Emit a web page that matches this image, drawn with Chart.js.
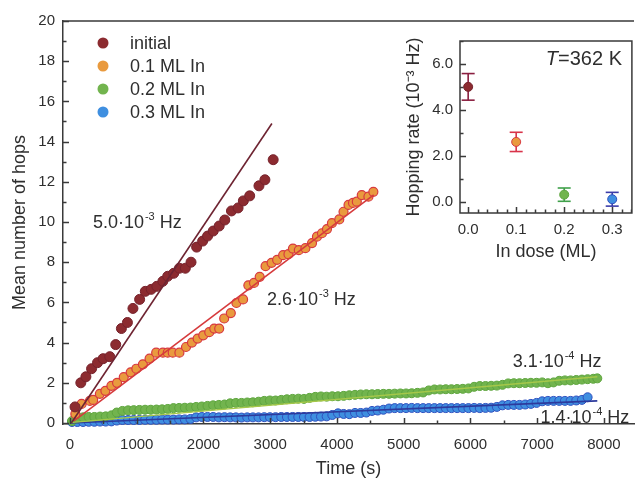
<!DOCTYPE html>
<html>
<head>
<meta charset="utf-8">
<title>Mean number of hops</title>
<script src="https://cdn.jsdelivr.net/npm/chart.js@4.4.1/dist/chart.umd.min.js"></script>
<style>
  html, body { margin: 0; padding: 0; background: #fff; }
  #wrap { position: relative; width: 640px; height: 480px; overflow: hidden; }
  #main { position: absolute; left: 0; top: 0; }
  #inset { position: absolute; left: 395px; top: 25px; }
</style>
</head>
<body>
<div id="wrap">
  <canvas id="main" width="640" height="480"></canvas>
  <canvas id="inset" width="245" height="240"></canvas>
</div>
<script>
// values (time in s, mean hops)
const initialT = [75, 162, 238, 323, 412, 496, 596, 685, 770, 860, 943, 1043, 1128, 1217, 1301, 1391, 1464, 1554, 1639, 1728, 1813, 1897, 1987, 2061, 2146, 2235, 2319, 2419, 2518, 2597, 2692, 2831, 2920, 3044]
const initialHops = [0.8, 2.0, 2.3, 2.7, 3.0, 3.2, 3.3, 3.9, 4.7, 5.0, 5.7, 6.15, 6.55, 6.65, 6.8, 7.05, 7.3, 7.45, 7.7, 7.7, 8.0, 8.75, 9.05, 9.3, 9.55, 9.8, 10.1, 10.55, 10.7, 11.05, 11.3, 11.8, 12.1, 13.1]

const dose1T = [80, 174, 298, 347, 447, 530, 620, 705, 805, 909, 994, 1092, 1192, 1291, 1391, 1464, 1539, 1639, 1738, 1827, 1912, 1996, 2086, 2161, 2235, 2310, 2409, 2493, 2593, 2672, 2757, 2842, 2930, 3020, 3103, 3193, 3273, 3340, 3428, 3527, 3626, 3700, 3775, 3850, 3924, 4034, 4098, 4173, 4240, 4297, 4371, 4471, 4545]
const dose1Hops = [0.45, 0.95, 1.1, 1.15, 1.45, 1.6, 1.85, 2.0, 2.28, 2.52, 2.7, 2.92, 3.2, 3.5, 3.5, 3.5, 3.5, 3.5, 3.78, 4.0, 4.2, 4.36, 4.52, 4.7, 4.7, 5.2, 5.47, 5.97, 6.15, 6.85, 6.97, 7.27, 7.8, 7.97, 8.12, 8.35, 8.4, 8.68, 8.6, 8.7, 8.95, 9.27, 9.44, 9.65, 9.94, 10.13, 10.51, 10.85, 10.95, 11.01, 11.34, 11.26, 11.5]

const dose2T = [30, 110, 195, 280, 365, 450, 535, 620, 700, 785, 870, 955, 1040, 1125, 1210, 1295, 1380, 1465, 1550, 1635, 1720, 1805, 1890, 1975, 2060, 2145, 2230, 2315, 2400, 2485, 2570, 2655, 2740, 2825, 2910, 2995, 3080, 3165, 3250, 3335, 3420, 3505, 3590, 3675, 3760, 3845, 3930, 4015, 4100, 4185, 4270, 4355, 4440, 4525, 4610, 4695, 4780, 4865, 4950, 5035, 5120, 5205, 5290, 5375, 5460, 5545, 5630, 5715, 5800, 5885, 5970, 6055, 6140, 6225, 6310, 6395, 6480, 6565, 6650, 6735, 6820, 6905, 6990, 7075, 7160, 7245, 7330, 7415, 7500, 7585, 7670, 7755, 7840, 7900]
const dose2Hops = [0.1, 0.22, 0.28, 0.3, 0.3, 0.32, 0.33, 0.38, 0.52, 0.6, 0.63, 0.64, 0.65, 0.66, 0.66, 0.67, 0.68, 0.7, 0.74, 0.75, 0.76, 0.77, 0.8, 0.82, 0.85, 0.88, 0.9, 0.92, 0.98, 1.0, 1.0, 1.02, 1.03, 1.06, 1.1, 1.12, 1.12, 1.15, 1.18, 1.2, 1.21, 1.2, 1.25, 1.3, 1.32, 1.31, 1.33, 1.33, 1.35, 1.38, 1.4, 1.42, 1.43, 1.43, 1.44, 1.45, 1.45, 1.46, 1.47, 1.47, 1.48, 1.5, 1.52, 1.62, 1.67, 1.67, 1.68, 1.68, 1.69, 1.7, 1.72, 1.8, 1.84, 1.84, 1.85, 1.86, 1.9, 1.97, 1.98, 1.98, 1.99, 2.0, 2.0, 2.02, 1.98, 2.02, 2.1, 2.12, 2.12, 2.14, 2.16, 2.18, 2.2, 2.22]

const dose3T = [30, 110, 195, 280, 365, 450, 535, 620, 700, 785, 870, 955, 1040, 1125, 1210, 1295, 1380, 1465, 1550, 1635, 1720, 1805, 1890, 1975, 2060, 2145, 2230, 2315, 2400, 2485, 2570, 2655, 2740, 2825, 2910, 2995, 3080, 3165, 3250, 3335, 3420, 3505, 3590, 3675, 3760, 3845, 3930, 4015, 4100, 4185, 4270, 4355, 4440, 4525, 4610, 4695, 4780, 4865, 4950, 5035, 5120, 5205, 5290, 5375, 5460, 5545, 5630, 5715, 5800, 5885, 5970, 6055, 6140, 6225, 6310, 6395, 6480, 6565, 6650, 6735, 6820, 6905, 6990, 7075, 7160, 7245, 7330, 7415, 7500, 7585, 7670, 7755]
const dose3Hops = [0.05, 0.05, 0.05, 0.06, 0.06, 0.07, 0.07, 0.08, 0.12, 0.15, 0.15, 0.15, 0.15, 0.16, 0.16, 0.16, 0.17, 0.17, 0.17, 0.18, 0.18, 0.2, 0.28, 0.3, 0.3, 0.3, 0.28, 0.29, 0.28, 0.28, 0.27, 0.28, 0.28, 0.28, 0.29, 0.29, 0.29, 0.3, 0.3, 0.3, 0.3, 0.3, 0.3, 0.31, 0.32, 0.33, 0.4, 0.48, 0.45, 0.44, 0.5, 0.5, 0.52, 0.6, 0.62, 0.66, 0.72, 0.74, 0.74, 0.74, 0.75, 0.74, 0.74, 0.74, 0.74, 0.74, 0.74, 0.74, 0.74, 0.74, 0.74, 0.75, 0.74, 0.75, 0.76, 0.8, 0.88, 0.9, 0.9, 0.9, 0.92, 0.95, 1.0, 1.08, 1.1, 1.1, 1.1, 1.1, 1.1, 1.12, 1.15, 1.28]

// fitted lines, end points [t, hops]
const fitInitial = [[20, 0], [3025, 14.9]]
const fitDose1 = [[60, 0.1], [4550, 11.35]]
const fitDose2 = [[0, 0.02], [7900, 2.3]]
const fitDose3 = [[0, 0], [7900, 1.1]]

const seriesNames = ['initial', '0.1 ML In', '0.2 ML In', '0.3 ML In']
const rateLabels = [['5.0\u00b710', '-3', ' Hz'], ['2.6\u00b710', '-3', ' Hz'], ['3.1\u00b710', '-4', ' Hz'], ['1.4\u00b710', '-4', ' Hz']]

// tick values
const timeTicks = [0, 1000, 2000, 3000, 4000, 5000, 6000, 7000, 8000]
const hopTicks = [0, 2, 4, 6, 8, 10, 12, 14, 16, 18, 20]
const doseTicks = [0.0, 0.1, 0.2, 0.3]
const rateTicks = [0.0, 2.0, 4.0, 6.0]

// inset: hopping rate vs In dose
const doses = [0.0, 0.1, 0.2, 0.3]
const rates = [5.0, 2.6, 0.3, 0.1]
const rateErr = [0.58, 0.42, 0.29, 0.3]

const FONT = '"Liberation Sans", Arial, Helvetica, sans-serif'
const TEXT = '#2e2e2e'
const AXIS = '#3a3a3a'
Chart.defaults.font.family = FONT
Chart.defaults.color = TEXT

const fill = ['#8c2b30', '#e99a3e', '#72b44e', '#3f8fe0']
const edge = ['#76222c', '#d8393f', '#5ea53e', '#3050bf']
const lineColor = ['#6e2432', '#d63a3c', '#a6c84a', '#2d3a9c']
const errColor = ['#8a1f40', '#d8344a', '#3fa04a', '#3c3ca8']

const pts = (xs, ys) => xs.map((x, i) => ({ x, y: ys[i] }))
const seg = s => s.map(p => ({ x: p[0], y: p[1] }))
const fixTicks = vals => s => { s.ticks = vals.map(value => ({ value })) }

function drawRate(ctx, x, y, parts, size) {
    const [base, exp, unit] = parts
    ctx.fillStyle = TEXT
    ctx.textAlign = 'left'
    ctx.textBaseline = 'alphabetic'
    ctx.font = `${size}px ${FONT}`
    ctx.fillText(base, x, y)
    let w = ctx.measureText(base).width + 1
    ctx.font = `${Math.round(size * 0.62)}px ${FONT}`
    ctx.fillText(exp, x + w, y - size * 0.42)
    w += ctx.measureText(exp).width
    ctx.font = `${size}px ${FONT}`
    ctx.fillText(unit, x + w, y)
}

// frame and inward tick marks (major + minor)
const frameTicks = {
    id: 'frameTicks',
    afterDraw(chart, args, o) {
        const { ctx, chartArea: a, scales } = chart
        ctx.save()
        ctx.strokeStyle = AXIS
        ctx.lineWidth = 1.5
        ctx.beginPath()
        if (o.box) {
            ctx.rect(a.left, a.top, a.right - a.left, a.bottom - a.top)
        } else {
            ctx.moveTo(a.left, a.top)
            ctx.lineTo(a.right, a.top)
        }
        const sx = scales.x
        for (let i = Math.ceil(sx.min / o.xMinor); i * o.xMinor <= sx.max + 1e-9; i++) {
            const v = i * o.xMinor
            const r = v / o.xMajor
            const len = Math.abs(r - Math.round(r)) < 1e-6 ? o.major : o.minor
            const px = Math.round(sx.getPixelForValue(v)) + 0.5
            ctx.moveTo(px, a.bottom)
            ctx.lineTo(px, a.bottom - len)
        }
        const sy = scales.y
        for (let i = Math.ceil(sy.min / o.yMinor); i * o.yMinor <= sy.max + 1e-9; i++) {
            const v = i * o.yMinor
            const r = v / o.yMajor
            const len = Math.abs(r - Math.round(r)) < 1e-6 ? o.major : o.minor
            const py = Math.round(sy.getPixelForValue(v)) + 0.5
            ctx.moveTo(a.left, py)
            ctx.lineTo(a.left + len, py)
        }
        ctx.stroke()
        ctx.restore()
    }
}

// legend and rate labels for the main plot
const mainText = {
    id: 'mainText',
    afterDraw(chart) {
        const { ctx, scales: { x, y } } = chart
        ctx.save()
        seriesNames.forEach((name, i) => {
            const cy = 43 + i * 23
            ctx.beginPath()
            ctx.arc(103, cy, 5.5, 0, Math.PI * 2)
            ctx.fillStyle = fill[i]
            ctx.fill()
            ctx.fillStyle = TEXT
            ctx.font = `18px ${FONT}`
            ctx.textAlign = 'left'
            ctx.textBaseline = 'middle'
            ctx.fillText(name, 130, cy + 1)
        })
        const at = [[343, 9.7], [2951, 5.87], [6632, 2.8], [7049, 0.0]]
        rateLabels.forEach((parts, i) => {
            drawRate(ctx, x.getPixelForValue(at[i][0]), y.getPixelForValue(at[i][1]), parts, 18)
        })
        ctx.restore()
    }
}

new Chart(document.getElementById('main'), {
    type: 'scatter',
    data: {
        datasets: [
            { data: seg(fitInitial), showLine: true, borderColor: lineColor[0], borderWidth: 1.6, pointRadius: 0, order: 0 },
            { data: seg(fitDose1), showLine: true, borderColor: lineColor[1], borderWidth: 1.6, pointRadius: 0, order: 0 },
            { data: seg(fitDose2), showLine: true, borderColor: lineColor[2], borderWidth: 1.4, pointRadius: 0, order: 0 },
            { data: seg(fitDose3), showLine: true, borderColor: lineColor[3], borderWidth: 1.6, pointRadius: 0, order: 0 },
            { data: pts(initialT, initialHops), backgroundColor: fill[0], borderColor: edge[0], borderWidth: 1, pointRadius: 5, order: 1, clip: false },
            { data: pts(dose1T, dose1Hops), backgroundColor: fill[1], borderColor: edge[1], borderWidth: 1.2, pointRadius: 4.5, order: 2, clip: false },
            { data: pts(dose2T, dose2Hops), backgroundColor: fill[2], borderColor: edge[2], borderWidth: 1, pointRadius: 4.5, order: 3, clip: false },
            { data: pts(dose3T, dose3Hops), backgroundColor: fill[3], borderColor: edge[3], borderWidth: 1, pointRadius: 4.5, order: 4, clip: false }
        ]
    },
    options: {
        responsive: false,
        animation: false,
        events: [],
        layout: { padding: { top: 21, right: 3, left: 0, bottom: 0 } },
        plugins: {
            legend: { display: false },
            tooltip: { enabled: false },
            frameTicks: { box: false, xMajor: 1000, xMinor: 500, yMajor: 2, yMinor: 1, major: 6, minor: 3.5 }
        },
        scales: {
            x: {
                type: 'linear',
                min: -105,
                max: 8450,
                afterBuildTicks: fixTicks(timeTicks),
                afterFit: s => { s.height = 56 },
                grid: { display: false, drawTicks: false },
                border: { color: AXIS, width: 1.5 },
                ticks: { padding: 12, color: TEXT, font: { size: 15 }, maxRotation: 0, autoSkip: false, callback: v => String(v) },
                title: { display: true, text: 'Time (s)', color: TEXT, font: { size: 18 }, padding: { top: 0, bottom: 0 } }
            },
            y: {
                type: 'linear',
                min: -0.05,
                max: 20,
                afterBuildTicks: fixTicks(hopTicks),
                afterFit: s => { s.width = 63 },
                grid: { display: false, drawTicks: false },
                border: { color: AXIS, width: 1.5 },
                ticks: { padding: 8, color: TEXT, font: { size: 15 }, autoSkip: false, callback: v => String(v) },
                title: { display: true, text: 'Mean number of hops', color: TEXT, font: { size: 18 }, padding: { top: 9, bottom: 0 } }
            }
        }
    },
    plugins: [frameTicks, mainText]
})

// inset
const insetBg = {
    id: 'insetBg',
    beforeDraw(chart) {
        const { ctx, chartArea: a } = chart
        ctx.save()
        ctx.fillStyle = '#fff'
        ctx.fillRect(a.left, a.top, a.right - a.left, a.bottom - a.top)
        ctx.restore()
    },
    afterDraw(chart) {
        const { ctx } = chart
        ctx.save()
        ctx.fillStyle = TEXT
        ctx.textBaseline = 'alphabetic'
        ctx.textAlign = 'right'
        ctx.font = `20px ${FONT}`
        const rest = '=362 K'
        ctx.fillText(rest, 227, 40)
        const w = ctx.measureText(rest).width
        ctx.font = `italic 20px ${FONT}`
        ctx.fillText('T', 227 - w, 40)
        ctx.restore()
    }
}

const errorBars = doses.map((d, i) => ({
    data: [{ x: d, y: rates[i] - rateErr[i] }, { x: d, y: rates[i] + rateErr[i] }],
    showLine: true,
    borderColor: errColor[i],
    borderWidth: 1.6,
    pointStyle: 'line',
    pointRadius: 6.5,
    pointBorderColor: errColor[i],
    pointBorderWidth: 1.6,
    order: 1
}))

new Chart(document.getElementById('inset'), {
    type: 'scatter',
    data: {
        datasets: [
            {
                data: pts(doses, rates),
                pointBackgroundColor: fill,
                pointBorderColor: edge,
                pointBorderWidth: 1,
                pointRadius: 4.5,
                order: 0
            },
            ...errorBars
        ]
    },
    options: {
        responsive: false,
        animation: false,
        events: [],
        layout: { padding: { top: 7, right: 7, left: 0, bottom: 0 } },
        plugins: {
            legend: { display: false },
            tooltip: { enabled: false },
            frameTicks: { box: true, xMajor: 0.1, xMinor: 0.02, yMajor: 2, yMinor: 1, major: 6, minor: 3.5 }
        },
        scales: {
            x: {
                type: 'linear',
                min: -0.017,
                max: 0.341,
                afterBuildTicks: fixTicks(doseTicks),
                afterFit: s => { s.height = 52 },
                grid: { display: false, drawTicks: false },
                border: { display: false },
                ticks: { padding: 8, color: TEXT, font: { size: 15 }, maxRotation: 0, autoSkip: false, callback: v => v.toFixed(1) },
                title: { display: true, text: 'In dose (ML)', color: TEXT, font: { size: 18 }, padding: { top: 0, bottom: 2 } }
            },
            y: {
                type: 'linear',
                min: -0.5,
                max: 7.0,
                afterBuildTicks: fixTicks(rateTicks),
                afterFit: s => { s.width = 65 },
                grid: { display: false, drawTicks: false },
                border: { display: false },
                ticks: { padding: 7, color: TEXT, font: { size: 15 }, autoSkip: false, callback: v => v.toFixed(1) },
                title: { display: true, text: 'Hopping rate (10\u207b\u00b3 Hz)', color: TEXT, font: { size: 18 }, padding: { top: 8, bottom: 0 } }
            }
        }
    },
    plugins: [insetBg, frameTicks]
})
</script>
</body>
</html>
